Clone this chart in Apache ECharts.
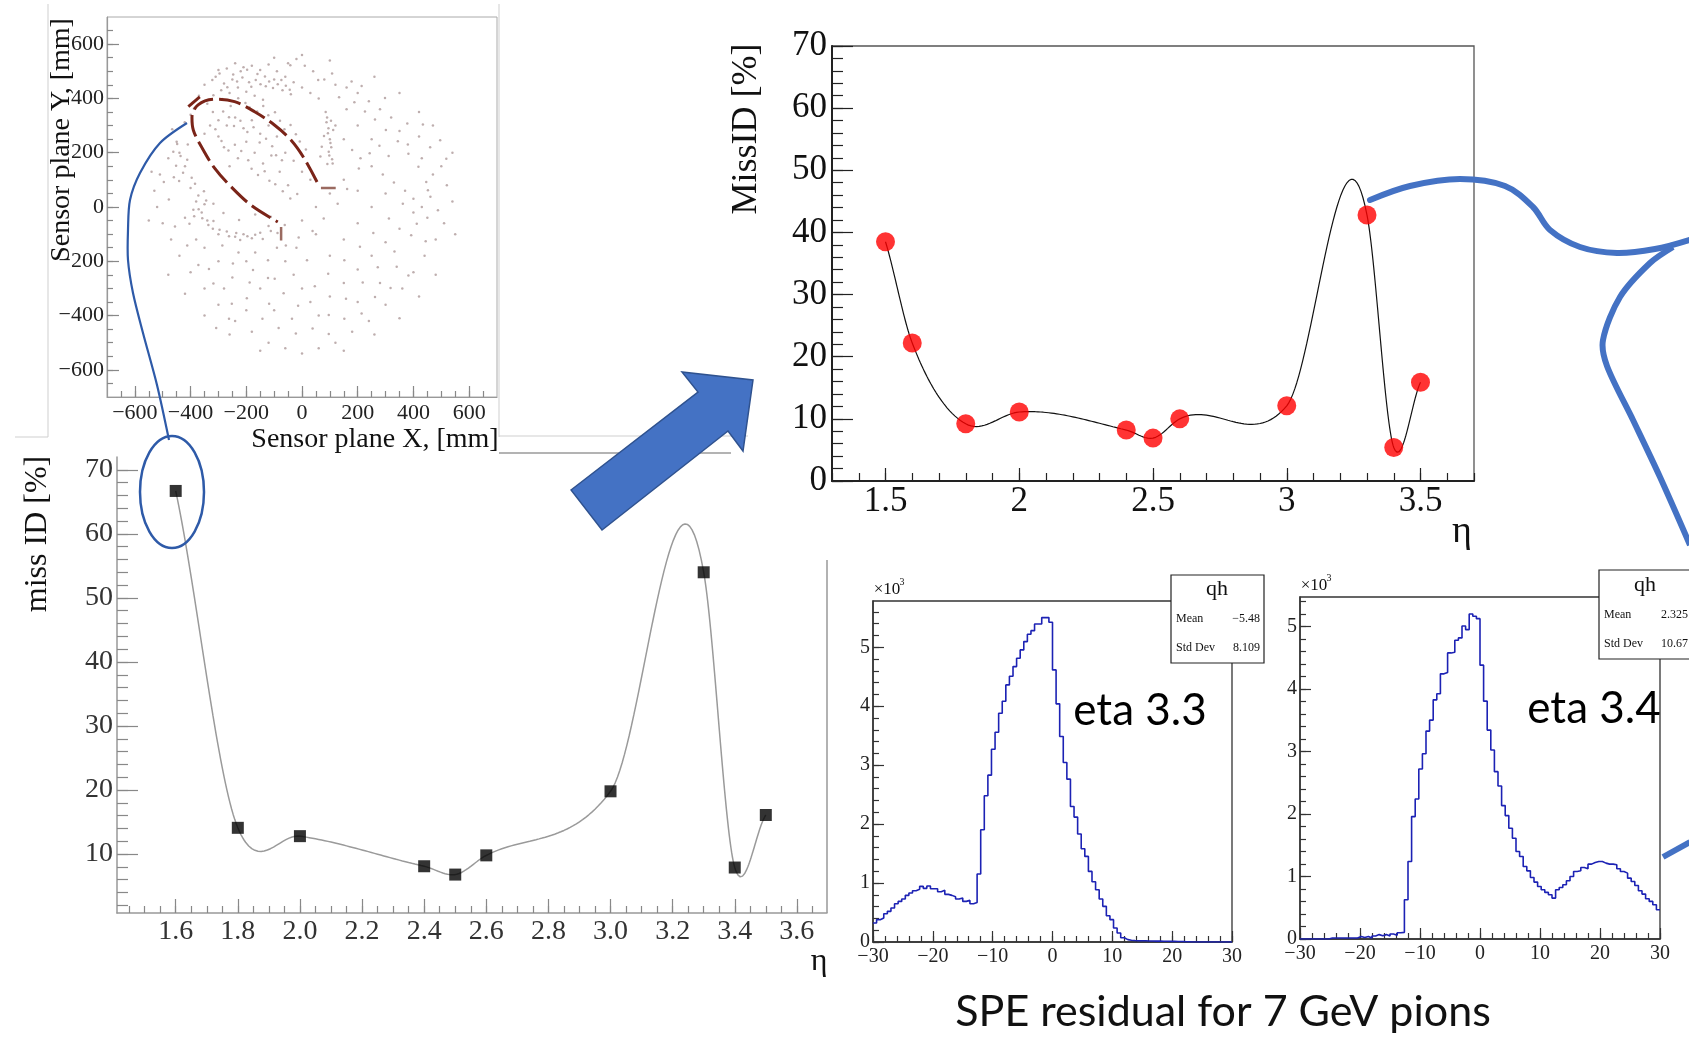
<!DOCTYPE html>
<html><head><meta charset="utf-8">
<script src="https://cdn.jsdelivr.net/npm/echarts@6/dist/echarts.min.js"></script>
<style>html,body{margin:0;padding:0;background:#fff}#c{width:1689px;height:1037px}</style>
</head><body><div id="c"></div>
<script>
// ---------------- DATA ----------------
// sensor-plane hit cloud (estimated positions, mm)
const cloudPoints = [[-310,480],[-280,455],[-250,470],[-220,500],[-190,460],[-160,490],[-130,445],[-100,470],[-70,430],[-40,415],[-290,430],[-260,420],[-230,440],[-200,425],[-170,410],[-140,395],[-300,505],[-270,510],[-240,530],[-210,515],[-180,520],[-150,505],[-120,525],[-90,500],[-60,480],[-30,460],[0,440],[30,420],[60,400],[-50,530],[-20,545],[10,520],[40,500],[80,470],[120,450],[160,440],[200,420],[240,390],[280,360],[320,330],[-340,380],[-320,350],[-300,320],[-270,300],[-240,330],[-210,290],[-180,320],[-150,270],[-120,300],[-90,260],[-60,200],[-30,170],[0,130],[30,100],[-200,240],[-170,200],[-140,160],[-110,190],[-80,130],[-50,80],[-230,180],[-260,150],[-280,220],[-300,260],[-350,270],[90,330],[95,290],[100,250],[105,220],[98,190],[110,160],[85,350],[120,300],[150,250],[180,210],[210,180],[250,150],[290,120],[330,90],[370,60],[400,30],[430,0],[450,-40],[470,120],[430,180],[380,230],[350,280],[420,260],[460,220],[500,150],[520,80],[540,20],[510,-60],[480,-120],[440,-180],[400,-240],[360,-300],[300,-360],[240,-420],[180,-460],[120,-500],[60,-520],[0,-540],[-60,-520],[-120,-500],[-180,-460],[-240,-420],[-300,-360],[-350,-300],[-400,-240],[-440,-180],[-470,-120],[-500,-60],[-520,0],[-530,60],[-510,120],[-480,180],[-450,240],[-420,150],[-440,200],[-460,110],[-410,230],[-400,70],[-380,20],[-360,-20],[-340,-50],[-320,-80],[-390,-10],[-350,10],[-300,-100],[-270,-90],[-240,-110],[-210,-100],[-180,-115],[-150,-95],[-120,-70],[-90,-150],[-60,-200],[-30,-250],[0,-300],[30,-350],[60,-400],[100,-330],[150,-280],[200,-230],[250,-180],[300,-130],[350,-80],[400,-20],[-200,-200],[-250,-260],[-300,-200],[-350,-150],[-150,-300],[-100,-380],[-200,-380],[-280,-300],[-380,-120],[-420,-40],[200,-350],[280,-280],[340,-220],[100,-180],[150,-120],[200,-60],[250,0],[300,50],[200,60],[150,100],[100,50],[50,0],[0,-50],[50,-100],[-20,-150],[-400,340],[-370,410],[-350,450],[-330,300],[200,300],[250,250],[160,360],[0,560],[-100,550],[100,540],[260,480],[350,420],[420,350],[470,300],[540,200],[550,-100],[-550,-50],[-540,130],[-480,-250],[-420,-320],[-350,-400],[-260,-470],[-150,-530],[150,-530],[260,-470],[350,-410],[420,-330],[480,-250]];
const cloudPointsDense = [[-322,468],[-296,492],[-268,441],[-247,488],[-233,462],[-214,477],[-197,506],[-182,443],[-166,468],[-149,452],[-133,481],[-118,462],[-104,438],[-87,452],[-74,468],[-58,447],[-44,432],[-318,412],[-287,398],[-256,372],[-229,401],[-203,383],[-188,367],[-161,352],[-139,372],[-121,338],[-97,349],[-79,318],[-63,286],[-41,302],[-22,268],[-8,241],[14,212],[-283,352],[-262,331],[-244,298],[-221,318],[-196,276],[-174,294],[-152,238],[-129,251],[-107,224],[-93,191],[-72,172],[-311,286],[-289,243],[-264,208],[-241,229],[-218,206],[-193,172],[-181,141],[-158,118],[-134,132],[-117,97],[-96,84],[-69,58],[-42,31],[-17,48],[88,312],[93,272],[102,236],[96,204],[108,176],[91,158],[112,284],[104,318],[79,262],[71,222],[66,186],[-448,232],[-436,188],[-452,152],[-427,126],[-412,174],[-462,204],[-396,108],[-441,96],[-404,-62],[-387,-34],[-371,-8],[-358,-41],[-336,-66],[-318,-52],[-344,24],[-372,42],[-296,-84],[-262,-108],[-236,-96],[-222,-122],[-196,-108],[-168,-102],[-141,-118],[-112,-88],[-88,-96],[133,404],[188,386],[226,352],[262,322],[301,284],[344,242],[382,196],[418,148],[446,92],[461,38],[488,-12],[311,188],[278,226],[243,198],[204,142],[162,66],[128,12],[78,-42],[38,-88],[-12,-112],[-62,-66],[-112,-36],[-168,-28],[-226,-48],[-282,-22],[-318,12],[-352,58],[-384,86],[-228,-168],[-176,-232],[-122,-262],[-66,-318],[-14,-364],[46,-292],[94,-246],[152,-196],[208,-146],[256,-96],[312,-42],[362,12],[392,-104],[332,-164],[272,-222],[218,-278],[158,-338],[96,-398],[38,-448],[-22,-466],[-84,-446],[-142,-412],[-198,-336],[-252,-356],[-318,-282],[-372,-214],[-412,-142],[-456,-72],[-478,28],[-496,92],[-466,286],[-421,312],[-388,362],[412,-62],[444,-126],[452,62],[-42,522],[58,468],[108,492],[178,462],[214,446],[298,402],[378,308],[434,304],[496,246],[518,178],[-122,-196],[-58,-142],[18,-196],[-286,-142],[-334,-228],[-248,-208],[-168,-168],[-98,-264],[-188,-278],[152,-412],[214,-392],[96,-468],[-36,-412],[-118,-356],[-262,-412],[-308,-446],[318,-298],[382,-252],[262,-332]];
// Cherenkov ring arc (dashed), mm
const ringArc = [[54,92],[8,179],[-39,246],[-99,302],[-170,351],[-242,388],[-313,397],[-373,376],[-395,330],[-390,283],[-361,222],[-313,142],[-254,74],[-182,6],[-87,-55]];
const ringPieceA = [[-408,370],[-367,406]];
const ringPieceB = [[68,70],[121,70]];
const ringPieceC = [[-75,-74],[-75,-123]];

// lower-left graph: miss ID vs eta
const etaLow  = [1.6, 1.8, 2.0, 2.4, 2.5, 2.6, 3.0, 3.3, 3.4, 3.5];
const missLow = [66.7, 14.1, 12.8, 8.1, 6.8, 9.8, 19.8, 54.0, 7.9, 16.1];
// upper graph: MissID vs eta
const etaHigh  = [1.5, 1.6, 1.8, 2.0, 2.4, 2.5, 2.6, 3.0, 3.3, 3.4, 3.5];
const missHigh = [38.5, 22.2, 9.2, 11.1, 8.2, 6.9, 10.0, 12.1, 42.8, 5.4, 15.9];

// SPE residual histograms (100 bins, -30..30), counts in units of 10^3
const histMin = -30, histBinWidth = 0.6;
const hist33 = [0.322,0.379,0.407,0.480,0.520,0.576,0.650,0.689,0.729,0.791,0.831,0.870,0.893,0.944,0.910,0.949,0.904,0.904,0.853,0.876,0.808,0.791,0.768,0.729,0.746,0.689,0.706,0.650,0.672,
  1.153,1.904,2.480,2.831,3.271,3.559,3.881,4.085,4.362,4.508,4.672,4.814,4.955,5.096,5.220,5.282,5.395,5.395,5.503,5.503,5.424,
  4.616,4.040,3.486,3.045,2.763,2.299,2.119,1.831,1.582,1.452,1.198,1.023,0.887,0.729,0.605,0.446,0.379,0.237,0.153,0.073,0.040,
  0.030,0.025,0.022,0.020,0.020,0.018,0.016,0.015,0.015,0.012,0.012,0.010,0.010,0.008,0.008,0.006,0.005,0,0,0,0,0,0,0,0,0,0,0,0];
const hist34 = [0,0,0,0,0,0,0,0,0.016,0.016,0.016,0.016,0.016,0.016,0.016,0.016,0.040,0.025,0.040,0.016,0.048,0.070,0.053,0.070,0.048,0.080,0.058,0.100,0.106,
  0.628,1.239,1.957,2.239,2.718,2.963,3.324,3.500,3.824,3.920,4.239,4.261,4.574,4.585,4.777,4.814,5.005,4.947,5.197,5.160,5.122,
  4.378,3.803,3.340,3.021,2.676,2.447,2.133,1.973,1.771,1.612,1.399,1.319,1.160,1.090,
  0.984,0.910,0.840,0.787,0.745,0.707,0.654,
  0.787,0.824,0.867,0.931,1.000,1.080,1.090,1.144,1.122,1.197,1.223,1.239,1.239,1.213,1.197,1.197,1.186,1.122,1.080,1.053,0.973,0.920,0.856,0.771,0.718,0.644,0.601,0.548,0.468];
const stats33 = {name:'qh', mean:'\u22125.48', std:'8.109', label:'eta 3.3'};
const stats34 = {name:'qh', mean:'2.325', std:'10.67', label:'eta 3.4'};

// tick labels
const sensorTicks = [-600,-400,-200,0,200,400,600];
const lowXTicks = [1.6,1.8,2.0,2.2,2.4,2.6,2.8,3.0,3.2,3.4,3.6];
const lowYTicks = [10,20,30,40,50,60,70];
const highXTicks = [1.5,2,2.5,3,3.5];
const highYTicks = [0,10,20,30,40,50,60,70];
const histXTicks = [-30,-20,-10,0,10,20,30];
const histYTicks = [0,1,2,3,4,5];

// ---------------- HELPERS ----------------
function range(a, b, s) { const r = []; for (let i = 0; a + i * s <= b + 1e-9; i++) r.push(+(a + i * s).toFixed(4)); return r; }
// smooth curve through the points: cubic Hermite with 3-point (Bessel) tangents and mild tension
function smoothCurve(xs, ys, perSeg, tension) {
  const n = xs.length, h = [], s = [], m = [];
  for (let i = 0; i < n - 1; i++) { h[i] = xs[i + 1] - xs[i]; s[i] = (ys[i + 1] - ys[i]) / h[i]; }
  m[0] = s[0]; m[n - 1] = s[n - 2];
  for (let i = 1; i < n - 1; i++) m[i] = (h[i] * s[i - 1] + h[i - 1] * s[i]) / (h[i - 1] + h[i]);
  for (let i = 0; i < n; i++) m[i] *= tension;
  const out = [];
  for (let i = 0; i < n - 1; i++) {
    for (let k = 0; k < perSeg; k++) {
      const t = k / perSeg, t2 = t * t, t3 = t2 * t;
      const y = (2 * t3 - 3 * t2 + 1) * ys[i] + (t3 - 2 * t2 + t) * h[i] * m[i] + (-2 * t3 + 3 * t2) * ys[i + 1] + (t3 - t2) * h[i] * m[i + 1];
      out.push([xs[i] + t * h[i], y]);
    }
  }
  out.push([xs[n - 1], ys[n - 1]]);
  return out;
}
const minus = v => String(v).replace('-', '\u2212');
const SERIF = 'Liberation Serif';

function axisPair(dim, gi, o) {
  const base = { gridIndex: gi, type: 'value', min: o.min, max: o.max, position: dim === 'x' ? 'bottom' : 'left', offset: 0, splitLine: { show: false } };
  const main = Object.assign({}, base, {
    axisLine: { show: true, onZero: false, lineStyle: { color: o.lineColor, width: o.lineWidth } },
    axisTick: { show: true, inside: true, length: o.majorLen, customValues: o.major, lineStyle: { color: o.tickColor, width: 1.2 } },
    axisLabel: { show: true, customValues: o.labels, margin: o.margin, fontFamily: SERIF, fontSize: o.fontSize, color: o.labelColor, formatter: o.fmt, hideOverlap: false }
  });
  const minor = Object.assign({}, base, {
    axisLine: { show: false, onZero: false },
    axisLabel: { show: false },
    axisTick: { show: true, inside: true, length: o.minorLen, customValues: o.minor, lineStyle: { color: o.tickColor, width: 1.2 } }
  });
  return [main, minor];
}

// ---------------- AXES ----------------
const xAxes = [].concat(
  axisPair('x', 0, { min: -700, max: 700, major: sensorTicks, labels: sensorTicks, minor: range(-650, 650, 50), majorLen: 11, minorLen: 6, lineColor: '#999', lineWidth: 1.2, tickColor: '#888', fontSize: 22, margin: 5, labelColor: '#222', fmt: v => minus(v) }),
  axisPair('x', 1, { min: 1.411, max: 3.697, major: lowXTicks, labels: lowXTicks, minor: range(1.45, 3.65, 0.05), majorLen: 14, minorLen: 7, lineColor: '#999', lineWidth: 1.5, tickColor: '#888', fontSize: 28, margin: 5, labelColor: '#333', fmt: v => (+v).toFixed(1) }),
  axisPair('x', 2, { min: 1.3, max: 3.7, major: highXTicks, labels: highXTicks, minor: range(1.3, 3.7, 0.1), majorLen: 13, minorLen: 8, lineColor: '#222', lineWidth: 2, tickColor: '#222', fontSize: 35, margin: 3, labelColor: '#111', fmt: v => String(v) }),
  axisPair('x', 3, { min: -30, max: 30, major: histXTicks, labels: histXTicks, minor: range(-30, 30, 2), majorLen: 11, minorLen: 6, lineColor: '#333', lineWidth: 1.5, tickColor: '#333', fontSize: 20, margin: 5, labelColor: '#222', fmt: v => minus(v) }),
  axisPair('x', 4, { min: -30, max: 30, major: histXTicks, labels: histXTicks, minor: range(-30, 30, 2), majorLen: 11, minorLen: 6, lineColor: '#333', lineWidth: 1.5, tickColor: '#333', fontSize: 20, margin: 5, labelColor: '#222', fmt: v => minus(v) })
);
const yAxes = [].concat(
  axisPair('y', 0, { min: -700, max: 700, major: sensorTicks, labels: sensorTicks, minor: range(-650, 650, 50), majorLen: 12, minorLen: 6, lineColor: '#999', lineWidth: 1.2, tickColor: '#888', fontSize: 22, margin: 3, labelColor: '#222', fmt: v => minus(v) }),
  axisPair('y', 1, { min: 0.8, max: 72, major: lowYTicks, labels: lowYTicks, minor: range(2, 70, 2), majorLen: 21, minorLen: 11, lineColor: '#999', lineWidth: 1.5, tickColor: '#888', fontSize: 28, margin: 4, labelColor: '#333', fmt: v => String(v) }),
  axisPair('y', 2, { min: 0, max: 70, major: highYTicks, labels: highYTicks, minor: range(0, 70, 2), majorLen: 21, minorLen: 11, lineColor: '#222', lineWidth: 2, tickColor: '#222', fontSize: 35, margin: 5, labelColor: '#111', fmt: v => String(v) }),
  axisPair('y', 3, { min: 0, max: 5.785, major: histYTicks, labels: histYTicks, minor: range(0, 5.6, 0.2), majorLen: 11, minorLen: 6, lineColor: '#333', lineWidth: 1.5, tickColor: '#333', fontSize: 20, margin: 3, labelColor: '#222', fmt: v => String(v) }),
  axisPair('y', 4, { min: 0, max: 5.468, major: histYTicks, labels: histYTicks, minor: range(0, 5.4, 0.2), majorLen: 11, minorLen: 6, lineColor: '#333', lineWidth: 1.5, tickColor: '#333', fontSize: 20, margin: 3, labelColor: '#222', fmt: v => String(v) })
);

// ---------------- SERIES ----------------
const histData = h => h.map((v, i) => [histMin + histBinWidth * i, v]).concat([[histMin + histBinWidth * h.length, h[h.length - 1]]]);
const dashRing = { color: '#7a2418', width: 3, type: [22, 6] };
const dotStyle = { color: 'rgba(120,85,85,0.6)' };
const series = [
  { type: 'scatter', xAxisIndex: 0, yAxisIndex: 0, data: cloudPoints, symbolSize: 2.5, itemStyle: dotStyle, silent: true },
  { type: 'scatter', xAxisIndex: 0, yAxisIndex: 0, data: cloudPointsDense, symbolSize: 2.5, itemStyle: dotStyle, silent: true },
  { type: 'line', xAxisIndex: 0, yAxisIndex: 0, data: ringArc, smooth: 0.35, showSymbol: false, lineStyle: dashRing },
  { type: 'line', xAxisIndex: 0, yAxisIndex: 0, data: ringPieceA, showSymbol: false, lineStyle: { color: '#7a2418', width: 3 } },
  { type: 'line', xAxisIndex: 0, yAxisIndex: 0, data: ringPieceB, showSymbol: false, lineStyle: { color: '#9a6a60', width: 2.5 } },
  { type: 'line', xAxisIndex: 0, yAxisIndex: 0, data: ringPieceC, showSymbol: false, lineStyle: { color: '#9a6a60', width: 2.5 } },
  { type: 'line', xAxisIndex: 2, yAxisIndex: 2, data: smoothCurve(etaLow, missLow, 40, 0.86), showSymbol: false, lineStyle: { color: '#9a9a9a', width: 1.5 }, z: 2 },
  { type: 'scatter', xAxisIndex: 2, yAxisIndex: 2, data: etaLow.map((x, i) => [x, missLow[i]]), symbol: 'rect', symbolSize: 12, itemStyle: { color: '#000' }, z: 3 },
  { type: 'line', xAxisIndex: 4, yAxisIndex: 4, data: smoothCurve(etaHigh, missHigh, 40, 0.86), showSymbol: false, lineStyle: { color: '#111', width: 1.2 }, z: 2 },
  { type: 'scatter', xAxisIndex: 4, yAxisIndex: 4, data: etaHigh.map((x, i) => [x, missHigh[i]]), symbol: 'circle', symbolSize: 19, itemStyle: { color: '#ff0000' }, z: 3 },
  { type: 'line', xAxisIndex: 6, yAxisIndex: 6, data: histData(hist33), step: 'end', showSymbol: false, lineStyle: { color: '#1c22b4', width: 1.6 } },
  { type: 'line', xAxisIndex: 8, yAxisIndex: 8, data: histData(hist34), step: 'end', showSymbol: false, lineStyle: { color: '#1c22b4', width: 1.6 } }
];

// ---------------- DECORATION ----------------
function txt(x, y, text, font, o) {
  o = o || {};
  return { type: 'text', x: x, y: y, rotation: o.rot || 0, z: 200,
    style: { text: text, font: font, fill: o.fill || '#111', align: o.align || 'center', verticalAlign: o.va || 'middle', textAlign: o.align || 'center', textVerticalAlign: o.va || 'middle' } };
}
function ln(x1, y1, x2, y2, color, w) { return { type: 'line', z: 150, shape: { x1, y1, x2, y2 }, style: { stroke: color, lineWidth: w } }; }
function statBox(x, y, w, h, headH, s) {
  return [
    { type: 'rect', z: 160, shape: { x, y, width: w, height: h }, style: { fill: '#fff', stroke: '#222', lineWidth: 1.2 } },
    ln(x, y + headH, x + w, y + headH, '#222', 1.2),
    txt(x + 46, y + headH / 2, s.name, '22px "Liberation Serif"'),
    txt(x + 5, y + headH + 15, 'Mean', '12px "Liberation Serif"', { align: 'left' }),
    txt(x + 89, y + headH + 15, s.mean, '12px "Liberation Serif"', { align: 'right' }),
    txt(x + 5, y + headH + 44, 'Std Dev', '12px "Liberation Serif"', { align: 'left' }),
    txt(x + 89, y + headH + 44, s.std, '12px "Liberation Serif"', { align: 'right' })
  ];
}
const BLUE = '#4472c4';
const graphics = [].concat(
  // border remnants of pasted pictures
  ln(48, 4, 48, 437, '#cfcfcf', 1), ln(15, 437, 48, 437, '#cfcfcf', 1),
  ln(499, 4, 499, 437, '#cfcfcf', 1), ln(499, 436, 748, 436, '#cfcfcf', 1), ln(499, 453, 731, 453, '#9a9a9a', 1.5),
  // right edge of lower-left frame
  ln(827, 560, 827, 913, '#999', 1.5),
  // axis titles
  [txt(62, 140, 'Sensor plane Y, [mm]', '28px "Liberation Serif"', { rot: Math.PI / 2 }),
   txt(375, 440, 'Sensor plane X, [mm]', '28px "Liberation Serif"'),
   txt(38, 534, 'miss ID [%]', '32px "Liberation Serif"', { rot: Math.PI / 2 }),
   txt(819, 962, '\u03b7', '32px "Liberation Serif"'),
   txt(747, 129, 'MissID [%]', '36px "Liberation Serif"', { rot: Math.PI / 2 }),
   txt(1462, 532, '\u03b7', '38px "Liberation Serif"'),
   txt(887, 590, '\u00d710', '17px "Liberation Serif"'),
   txt(902, 582, '3', '10px "Liberation Serif"'),
   txt(1314, 586, '\u00d710', '17px "Liberation Serif"'),
   txt(1329, 578, '3', '10px "Liberation Serif"'),
   txt(1140, 711, stats33.label, '44px Lato', { fill: '#000' }),
   txt(1594, 709, stats34.label, '44px Lato', { fill: '#000' }),
   txt(1223, 1012, 'SPE residual for 7 GeV pions', '43px Lato', { fill: '#111' })],
  statBox(1171, 575, 93, 88, 29, stats33),
  statBox(1599, 570, 93, 89, 30, stats34),
  // annotation: thin blue link + ellipse
  [{ type: 'polyline', z: 180, shape: { points: [[187, 123], [160, 143], [140, 173], [130, 200], [128, 230], [128, 260], [133, 293], [143, 333], [157, 385], [169, 440]], smooth: 0.3 }, style: { stroke: '#2e5aa8', lineWidth: 2.2, fill: 'none' } },
   { type: 'ellipse', z: 180, shape: { cx: 172, cy: 492, rx: 32, ry: 56 }, style: { stroke: '#2e5aa8', lineWidth: 2.5, fill: 'none' } },
   // big block arrow
   { type: 'polygon', z: 180, shape: { points: [[571, 490], [698, 392], [682, 372], [753, 380], [743, 451], [728, 431], [602, 530]] }, style: { fill: BLUE, stroke: '#2f528f', lineWidth: 1.5 } },
   // thick blue connector on the right
   { type: 'polyline', z: 180, shape: { points: [[1370, 200], [1410, 186], [1460, 179], [1505, 186], [1533, 207], [1550, 230], [1580, 247], [1617, 253], [1655, 249], [1689, 240]], smooth: 0.35 }, style: { stroke: BLUE, lineWidth: 6, fill: 'none', lineCap: 'round' } },
   { type: 'polyline', z: 180, shape: { points: [[1673, 247], [1650, 263], [1620, 297], [1603, 340], [1607, 366], [1633, 420], [1660, 477], [1690, 545]], smooth: 0.3 }, style: { stroke: BLUE, lineWidth: 6, fill: 'none' } },
   { type: 'line', z: 180, shape: { x1: 1663, y1: 857, x2: 1690, y2: 842 }, style: { stroke: BLUE, lineWidth: 6 } }]
);

const chart = echarts.init(document.getElementById('c'), null, { renderer: 'canvas' });
chart.setOption({
  animation: false,
  backgroundColor: '#fff',
  grid: [
    { left: 107, top: 17, width: 390, height: 380, show: true, borderColor: '#aaa', borderWidth: 1, backgroundColor: 'transparent' },
    { left: 117, top: 457, width: 710, height: 456, show: false },
    { left: 832, top: 46, width: 642, height: 435, show: true, borderColor: '#555', borderWidth: 1.3, backgroundColor: 'transparent' },
    { left: 873, top: 601, width: 359, height: 341, show: true, borderColor: '#333', borderWidth: 1.3, backgroundColor: 'transparent' },
    { left: 1300, top: 597, width: 360, height: 342, show: true, borderColor: '#333', borderWidth: 1.3, backgroundColor: 'transparent' }
  ],
  xAxis: xAxes,
  yAxis: yAxes,
  series: series,
  graphic: { elements: graphics }
});
</script>
</body></html>
